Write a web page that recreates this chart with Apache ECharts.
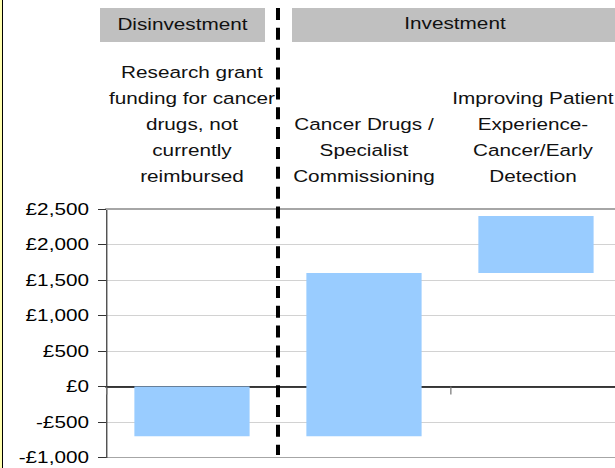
<!DOCTYPE html>
<html><head><meta charset="utf-8">
<script src="https://cdn.jsdelivr.net/npm/echarts@6/dist/echarts.min.js"></script>
<style>
html,body{margin:0;padding:0;background:#fff;overflow:hidden}
#wrap{width:615px;height:468px;overflow:hidden;position:relative}
#c{width:504px;height:468px;transform:scaleX(1.2202);transform-origin:0 0}
</style>
</head><body><div id="wrap"><div id="c"></div></div>
<script>
const categories = [
  'Research grant\nfunding for cancer\ndrugs, not\ncurrently\nreimbursed',
  'Cancer Drugs /\nSpecialist\nCommissioning',
  'Improving Patient\nExperience-\nCancer/Early\nDetection'
];
const startValues = [0, -700, 1600];
const endValues = [-700, 1600, 2400];
const yTicks = [-1000, -500, 0, 500, 1000, 1500, 2000, 2500];
const groupLabels = ['Disinvestment', 'Investment'];

const K = 615 / 504; // horizontal stretch of the original picture
const X = v => v / K;
const deltaValues = endValues.map((e, i) => e - startValues[i]);
const FONT = '"Liberation Sans", Arial, sans-serif';
const fmt = v => (v < 0 ? '-£' : '£') + String(Math.abs(v)).replace(/\B(?=(\d{3})+(?!\d))/g, ',');
const gridColors = yTicks.map((t, i) => (i === 0 || i === yTicks.length - 1) ? '#a6a6a6' : '#d2d2d2');
const topCategoryData = categories.map((c, i) => i === categories.length - 1
  ? { value: c, textStyle: { padding: [0, 5, 0, 0] } }
  : c);

const chart = echarts.init(document.getElementById('c'), null, { renderer: 'svg' });
chart.setOption({
  animation: false,
  backgroundColor: '#ffffff',
  grid: { left: X(106), width: X(516), top: 209, bottom: 10.5, containLabel: false, outerBoundsMode: 'none' },
  xAxis: [
    {
      type: 'category', data: categories, position: 'bottom',
      axisLine: { show: true, onZero: true, lineStyle: { color: '#000', width: 1.5 } },
      axisTick: { show: true, length: 8, interval: 0, lineStyle: { color: '#777', width: 1 } },
      axisLabel: { show: false },
      splitLine: { show: false }
    },
    {
      type: 'category', data: topCategoryData, position: 'top',
      axisLine: { show: true, lineStyle: { color: '#a6a6a6', width: 2 } },
      axisTick: { show: false },
      axisLabel: { show: true, interval: 0, margin: 19.5, color: '#111', fontFamily: FONT, fontSize: 17, lineHeight: 26, align: 'center' },
      splitLine: { show: false }
    }
  ],
  yAxis: {
    type: 'value', min: yTicks[0], max: yTicks[yTicks.length - 1], interval: yTicks[1] - yTicks[0],
    axisLine: { show: true, lineStyle: { color: '#333', width: 1 } },
    axisTick: { show: true, length: X(8), lineStyle: { color: '#333' } },
    axisLabel: { margin: X(17), color: '#000', fontFamily: FONT, fontSize: 17, formatter: fmt },
    splitLine: { show: true, lineStyle: { color: gridColors, width: 1 } }
  },
  series: [
    {
      type: 'bar', stack: 'w', stackStrategy: 'all', data: startValues, barWidth: '67%', silent: true,
      itemStyle: { color: 'rgba(0,0,0,0)' }, xAxisIndex: 0
    },
    {
      type: 'bar', stack: 'w', stackStrategy: 'all', data: deltaValues, barWidth: '67%',
      itemStyle: { color: '#99ccff' }, xAxisIndex: 0
    }
  ],
  graphic: [
    { type: 'rect', shape: { x: 0, y: 0, width: X(2), height: 468 }, style: { fill: '#ffffb0' }, silent: true },
    { type: 'rect', shape: { x: X(2), y: 0, width: X(1), height: 468 }, style: { fill: '#000' }, silent: true },
    { type: 'rect', shape: { x: X(100), y: 8, width: X(165), height: 34 }, style: { fill: '#c0c0c0' }, silent: true },
    { type: 'text', style: { text: groupLabels[0], x: X(182.5), y: 24.5, align: 'center', verticalAlign: 'middle', font: '17px ' + FONT, fill: '#111' }, silent: true },
    { type: 'rect', shape: { x: X(292), y: 8, width: X(330), height: 34 }, style: { fill: '#c0c0c0' }, silent: true },
    { type: 'text', style: { text: groupLabels[1], x: X(455), y: 23.5, align: 'center', verticalAlign: 'middle', font: '17px ' + FONT, fill: '#111' }, silent: true },
    { type: 'line', shape: { x1: X(278), y1: 8, x2: X(278), y2: 455 }, style: { stroke: '#000', lineWidth: X(4), lineDash: [12, 7.85] }, z: 100, silent: true }
  ]
});
</script>
</body></html>
